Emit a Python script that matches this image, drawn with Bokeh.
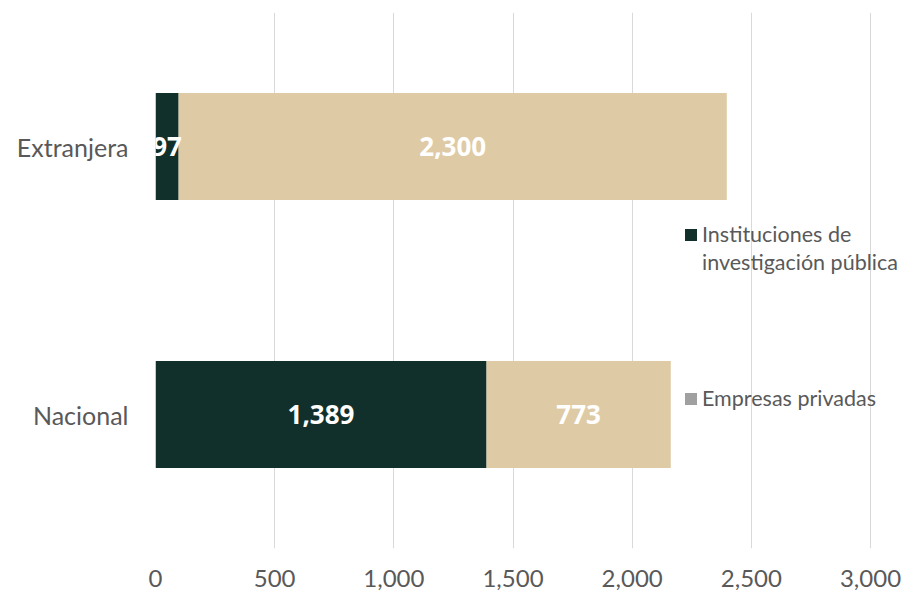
from bokeh.plotting import figure
from bokeh.models import ColumnDataSource, Legend, LegendItem, FactorRange, Range1d
from bokeh.core.properties import value
from bokeh.embed import file_html
from bokeh.resources import INLINE

categories = ["Nacional", "Extranjera"]
publicas = [1389, 97]
privadas = [773, 2300]
series_lines = [["Instituciones de", "investigación pública"], ["Empresas privadas"]]
tick_values = [0, 500, 1000, 1500, 2000, 2500, 3000]
tick_labels = ["0", "500", "1,000", "1,500", "2,000", "2,500", "3,000"]

DARK = "#12302B"
TAN = "#DECBA5"
GRAY_LEG = "#A0A0A0"
TEXT = "#595959"

W, H = 905, 598
LEFT, RIGHT_PAD, TOP, BOTTOM = 155, 0, 12, 50
frame_w = W - LEFT - RIGHT_PAD
axis_max = 3000
px_per_unit = 715 / axis_max  # 3,000 gridline sits 35px left of the right edge

src = ColumnDataSource(dict(cat=categories, pub=publicas, priv=privadas))

p = figure(width=W, height=H, y_range=FactorRange(factors=categories),
           x_range=Range1d(0, frame_w / px_per_unit), output_backend="svg",
           toolbar_location=None,
           min_border_left=LEFT, min_border_right=RIGHT_PAD,
           min_border_top=TOP, min_border_bottom=BOTTOM)
p.outline_line_color = None
p.background_fill_color = "white"
p.border_fill_color = "white"

rs = p.hbar_stack(["pub", "priv"], y="cat", height=0.4, color=[DARK, TAN], source=src,
                  line_color=None)

# data labels
lab_src = ColumnDataSource(dict(
    cat=categories * 2,
    x=[v / 2 for v in publicas] + [a + b / 2 for a, b in zip(publicas, privadas)],
    t=[f"{v:,}" for v in publicas] + [f"{v:,}" for v in privadas],
))
p.text(x="x", y="cat", text="t", source=lab_src, text_color="white",
       text_font=value("Open Sans"), text_font_style="bold", text_font_size="26px",
       text_align="center", text_baseline="middle")

# axes
p.xaxis.ticker = tick_values
p.xaxis.major_label_overrides = {v: l for v, l in zip(tick_values, tick_labels)}
for ax in (p.xaxis, p.yaxis):
    ax.axis_line_color = None
    ax.major_tick_line_color = None
    ax.minor_tick_line_color = None
    ax.major_tick_out = 0
    ax.major_tick_in = 0
    ax.major_label_text_color = TEXT
    ax.major_label_text_font = "Lato"
p.xaxis.major_label_text_font_size = "24px"
p.yaxis.major_label_text_font_size = "25px"
p.xaxis.major_label_standoff = 21
p.yaxis.major_label_standoff = 27

p.xgrid.grid_line_color = "#D9D9D9"
p.xgrid.grid_line_width = 1
p.ygrid.grid_line_color = None

# legend proxies (zero-size, invisible on the plot)
g2 = p.hbar(y="cat", left=0, right=0, height=0, source=src,
            fill_color=GRAY_LEG, line_color=None)
g_blank = p.hbar(y="cat", left=0, right=0, height=0, source=src,
                 fill_alpha=0, line_color=None)

common = dict(border_line_color=None, background_fill_alpha=0, padding=0, margin=0,
              glyph_width=15, glyph_height=15, label_standoff=4,
              label_text_font="Lato", label_text_font_size="21.5px",
              label_text_color=TEXT, spacing=2)
leg1 = Legend(items=[LegendItem(label=series_lines[0][0], renderers=[rs[0]]),
                     LegendItem(label=series_lines[0][1], renderers=[g_blank])],
              location=(528, 273), **common)
leg2 = Legend(items=[LegendItem(label=series_lines[1][0], renderers=[g2])],
              location=(528, 137), **common)
p.add_layout(leg1, "center")
p.add_layout(leg2, "center")

open("out.html", "w").write(file_html(p, INLINE))
